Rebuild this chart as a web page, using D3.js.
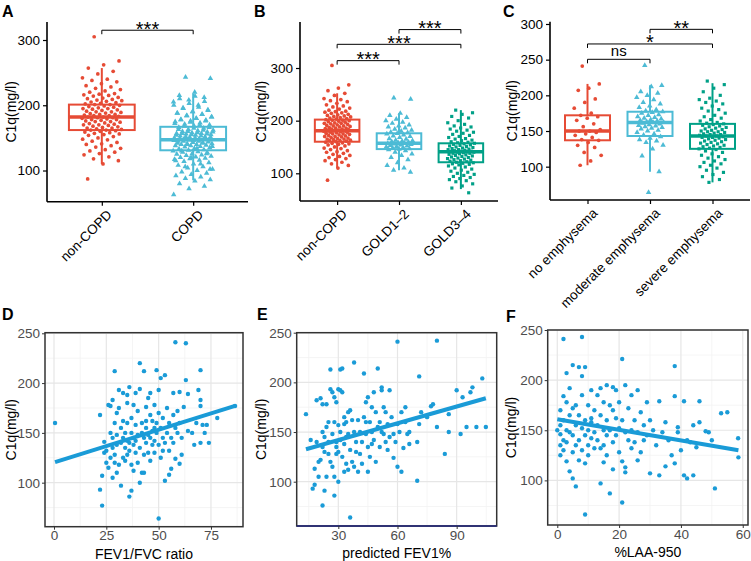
<!DOCTYPE html>
<html><head><meta charset="utf-8">
<script src="https://cdn.jsdelivr.net/npm/d3@7"></script>
<style>body{margin:0;background:#fff} text{font-family:"Liberation Sans",Arial,sans-serif}</style>
</head><body><svg id="c" width="751" height="561"></svg>
<script>
// ---------- DATA ----------
const nonCOPD = [305,268,262,257,252,248,242,240,238,236,233,230,228,226,224,222,220,218,217,216,215,214,212,211,210,209,208,207,206,205,204,203,202,201,201,200,199,198,197,196,195,195,194,193,192,191,190,190,189,188,187,186,186,185,184,184,183,182,182,181,181,180,179,178,178,177,176,175,175,174,173,172,171,170,170,169,168,167,166,165,165,164,163,162,162,161,160,159,158,157,156,155,154,152,150,148,147,145,143,141,140,138,136,134,132,130,128,126,124,121,118,115,110,87];
const gold12 = [243,241,214,210,206,203,200,197,195,192,190,188,186,184,182,180,178,177,176,175,173,171,170,168,166,165,163,162,161,160,159,158,157,157,156,155,154,153,152,151,150,149,148,147,146,145,143,140,137,134,130,126,120,115,110,106,102];
const gold34 = [220,215,212,208,205,200,196,193,190,188,186,184,182,180,178,176,174,172,170,168,166,165,163,162,160,159,158,157,156,155,154,153,152,151,150,149,148,147,146,145,145,144,143,142,142,141,141,140,140,139,138,138,137,136,135,134,133,132,131,130,129,128,127,126,125,124,123,122,121,120,119,118,117,116,114,112,110,108,106,104,102,100,98,96,94,92,90,88,86,84,80,76,72,63];
const copd = gold12.concat(gold34);
const noEmph = [241,216,210,207,195,190,182,175,172,170,168,165,160,156,152,150,150,148,146,144,141,138,137,134,130,127,120,116,108,102];
const modEmph = [242,214,212,205,203,200,197,194,190,188,185,183,180,178,177,176,175,173,172,170,169,168,167,166,165,164,163,162,162,161,160,159,158,157,156,155,154,153,151,150,148,146,144,142,140,138,136,134,130,125,115,93,64];
const sevEmph = [220,215,210,205,200,196,194,192,190,188,185,182,180,178,175,172,170,168,166,164,162,161,160,159,158,157,156,155,154,153,152,151,150,149,149,148,147,146,145,145,144,143,143,142,141,141,140,139,138,137,136,135,134,133,132,131,130,129,128,127,126,125,124,122,120,118,116,114,112,110,108,106,104,102,100,98,95,92,89,86,82,78];

// box stats: [lower whisker, Q1, median, Q3, upper whisker]
const statsA = [[110,162,182,201,257],[85,131,147,167,218]];
const statsB = [[110,160,181,202,252],[106,146,157,176,214],[70,121,141,157,220]];
const statsC = [[102,137,150,172,216],[93,143,162,177,214],[78,125,143,160,217]];

const catsA = ["non-COPD","COPD"];
const catsB = ["non-COPD","GOLD1–2","GOLD3–4"];
const catsC = ["no emphysema","moderate emphysema","severe emphysema"];

const yTicksAB = [100,200,300];
const yTicksC = [100,150,200,250,300];
const yTicksScatter = [100,150,200,250];
const xTicksD = [0,25,50,75];
const xTicksE = [30,60,90];
const xTicksF = [0,20,40,60];

// brackets: [fromIndex, toIndex, yValue, label]
const bracketsA = [[0,1,315,"***"]];
const bracketsB = [[0,1,314,"***"],[0,2,345,"***"],[1,2,373,"***"]];
const bracketsC = [[0,1,250.5,"ns"],[0,2,272,"*"],[1,2,292.5,"**"]];

// scatter data [x, C1q]
const scatterD = [[0.5,160],[22,168],[23,107],[22,93],[23,77],[24,141],[25,132],[26,178],[27,177],[27,150],[28,105],[28,145],[28,135],[29,212],[29,128],[29,120],[30,138],[30,148],[30,110],[28,183],[27,125],[26,115],[25,120],[24,130],[29,160],[30,170],
[31,193],[31,118],[32,97],[32,140],[32,155],[33,190],[33,162],[33,145],[34,150],[34,135],[34,122],[35,188],[35,180],[35,160],[35,142],[35,128],[36,86],[36,140],[36,132],[37,92],[37,118],[37,150],[37,165],[38,178],[38,145],[38,138],[38,112],[39,158],[39,130],[39,142],[40,148],[40,120],[40,172],[31,175],[33,125],[36,196],[39,190],
[41,220],[41,194],[41,100],[41,135],[42,150],[42,160],[42,110],[43,212],[43,145],[43,128],[43,110],[44,176],[44,155],[44,140],[45,185],[45,130],[45,148],[46,190],[46,168],[46,122],[47,162],[47,138],[47,152],[48,142],[48,178],[48,130],[49,160],[49,150],[49,213],[50,64],[50,193],[50,138],[50,170],[44,162],[46,145],[48,155],
[51,205],[51,125],[51,155],[52,145],[52,165],[53,208],[53,102],[53,140],[54,150],[54,175],[55,108],[55,160],[55,132],[56,114],[56,145],[57,190],[57,168],[58,241],[58,124],[58,155],[59,150],[59,172],[60,119],[60,191],[60,160],[61,128],[61,145],[62,176],[52,132],[57,140],
[63,240],[63,203],[64,189],[64,152],[66,150],[67,138],[68,160],[69,193],[70,213],[70,183],[70,177],[71,158],[70,140],[73,158],[74,140],[72,150],[78,165],[86.5,177]];
const scatterE = [[13.6,168],[16,142],[17,93],[18,97],[18,113],[19,140],[19,182],[20,105],[20,120],[21,184],[21,122],[22,76],[22,135],[22,150],[23,91],[23,145],[23,130],[24,178],[24,155],[24,105],[25,160],[25,128],[25,140],[22,178],
[26,213],[26,193],[26,120],[27,190],[27,148],[27,115],[28,86],[28,185],[28,160],[28,105],[29,180],[29,140],[29,135],[30,193],[30,157],[30,130],[30,100],[31,213],[31,192],[31,150],[32,214],[32,190],[32,125],[33,158],[33,138],[33,110],[34,160],[34,145],[34,118],[35,170],[35,148],[35,112],[29,128],[31,142],[33,165],
[36,64],[36,172],[36,132],[37,162],[37,120],[38,220],[38,150],[38,115],[39,140],[39,130],[40,162],[40,110],[41,150],[42,140],[42,118],[43,165],[43,209],[44,180],[44,148],[45,185],[45,135],[45,110],[46,160],[46,125],[47,175],[47,150],[48,190],[48,142],[49,170],[49,120],[50,155],[50,214],[41,128],[44,160],[47,138],
[51,160],[51,135],[52,195],[52,192],[52,150],[53,175],[53,148],[54,170],[54,140],[55,158],[55,132],[56,192],[56,145],[57,165],[58,148],[58,124],[59,140],[60,241],[60,158],[60,115],[61,150],[62,110],[62,170],[63,134],[64,160],[65,148],[64,175],
[66,138],[66,150],[70,101],[70,140],[71,206],[71,158],[72,170],[75,165],[77,176],[78,178],[80,242],[80,155],[84,128],[86,150],[86,168],[90,192],[92,148],[93,185],[95,155],[97,190],[98,195],[100,155],[103,204],[104.8,155]];
const scatterF = [[1,170],[1,155],[1,146],[1,135],[2,241],[2,184],[2,160],[2,140],[2,130],[3,207],[3,178],[3,150],[3,119],[3,138],[4,192],[4,165],[4,148],[4,109],[5,215],[5,172],[5,145],[5,128],[5,102],[6,94],[6,175],[6,155],[6,135],[0,150],[1,125],
[7,213],[7,165],[7,140],[8,243],[8,204],[8,185],[8,152],[8,130],[9,213],[9,66],[9,117],[9,160],[9,145],[10,175],[10,150],[10,135],[11,190],[11,158],[11,142],[12,170],[12,148],[12,132],[7,120],[10,125],[11,162],
[13,185],[13,155],[13,140],[14,97],[14,192],[14,165],[14,132],[15,178],[15,150],[15,118],[16,195],[16,160],[16,145],[16,125],[17,87],[17,175],[17,150],[18,193],[18,138],[18,111],[19,190],[19,162],[19,145],[20,178],[20,152],[20,128],[15,135],[18,170],
[21,221],[21,78],[21,119],[21,160],[22,113],[22,108],[22,148],[22,195],[23,172],[23,140],[24,185],[24,150],[24,132],[25,160],[25,138],[26,190],[26,148],[27,168],[27,128],[28,155],[28,140],[29,178],[29,145],[30,107],[30,160],[26,120],
[31,150],[32,135],[33,179],[33,105],[34,148],[35,114],[35,158],[36,140],[37,125],[38,214],[38,184],[38,117],[39,153],[39,148],[40,130],[41,179],[41,105],[42,102],[42,140],[43,138],[44,105],[44,155],[45,133],
[46,158],[46,179],[48,149],[49,148],[51,92],[53,167],[55,168],[58.6,123],[58.5,142],[50,140]];
// linear fits [intercept, slope]
const fitD = [120.4, 0.655];
const fitE = [125.05, 0.5625];
const fitF = [161, -0.529];

// ---------- DRAW ----------
const svg = d3.select("#c");
const RED="#E64B35", BLUE="#4DBBD5", GREEN="#00A087", SC="#1A9BD7";
const FONT = '"Liberation Sans",Arial,sans-serif';

function shapePath(type){
  if(type==="circle") return d3.symbol().type(d3.symbolCircle).size(11)();
  if(type==="triangle") return d3.symbol().type(d3.symbolTriangle).size(13)();
  return d3.symbol().type(d3.symbolSquare).size(10)();
}

function boxPanel(c){
  const g = svg.append("g");
  const x = d3.scalePoint().domain(c.cats).range([c.left,c.right]).padding(0.6);
  const y = d3.scaleLinear().domain(c.yDom).range([c.bottom,c.top]);
  const step = x.step(), bw = step*0.72, jw = step*0.22;
  c.cats.forEach((cat,i)=>{
    const s=c.stats[i], col=c.colors[i], cx=x(cat);
    g.append("line").attr("x1",cx).attr("x2",cx).attr("y1",y(s[0])).attr("y2",y(s[1])).attr("stroke",col).attr("stroke-width",2);
    g.append("line").attr("x1",cx).attr("x2",cx).attr("y1",y(s[3])).attr("y2",y(s[4])).attr("stroke",col).attr("stroke-width",2);
    g.append("rect").attr("x",cx-bw/2).attr("width",bw).attr("y",y(s[3])).attr("height",y(s[1])-y(s[3]))
      .attr("fill","#fff").attr("stroke",col).attr("stroke-width",2);
    g.append("line").attr("x1",cx-bw/2).attr("x2",cx+bw/2).attr("y1",y(s[2])).attr("y2",y(s[2])).attr("stroke",col).attr("stroke-width",3.5);
    const p = shapePath(c.shapes[i]);
    c.groups[i].forEach((v,j)=>{
      const off = (((j*0.6180339887+0.31)%1)-0.5)*2*jw;
      g.append("path").attr("d",p).attr("transform",`translate(${cx+off},${y(v)})`).attr("fill",col);
    });
  });
  // axes
  const ya = g.append("g").attr("transform",`translate(${c.left},0)`).call(d3.axisLeft(y).tickValues(c.yTicks).tickSize(4).tickSizeOuter(0).tickPadding(3));
  const xa = g.append("g").attr("transform",`translate(0,${c.bottom})`).call(d3.axisBottom(x).tickSize(4).tickSizeOuter(0).tickFormat(""));
  [ya,xa].forEach(a=>{a.select(".domain").attr("stroke","#000").attr("stroke-width",1.6); a.selectAll(".tick line").attr("stroke","#000").attr("stroke-width",1.2);});
  ya.selectAll(".tick text").attr("font-family",FONT).attr("font-size",13.5).attr("fill","#000");
  ya.select(".domain").attr("d",`M0,${c.top}V${c.bottom}`);
  xa.select(".domain").attr("d",`M${c.left},0H${c.right}`);
  c.cats.forEach(cat=>{
    g.append("text").attr("transform",`translate(${x(cat)+4},${c.bottom+7}) rotate(-45)`).attr("dy","0.72em")
      .attr("text-anchor","end").attr("font-size",13.5).attr("fill","#000").text(cat);
  });
  // y title
  g.append("text").attr("transform",`translate(${c.ylabX},${(c.top+c.bottom)/2}) rotate(-90)`).attr("text-anchor","middle").attr("font-size",14).text("C1q(mg/l)");
  // brackets
  c.brackets.forEach(b=>{
    const x1=x(c.cats[b[0]]), x2=x(c.cats[b[1]]), yy=y(b[2]);
    g.append("path").attr("d",`M${x1},${yy+4}V${yy}H${x2}V${yy+4}`).attr("fill","none").attr("stroke","#000").attr("stroke-width",1);
    const isNs = b[3]==="ns";
    g.append("text").attr("x",(x1+x2)/2).attr("y",isNs? yy-3 : yy+5.5).attr("text-anchor","middle")
      .attr("font-size",isNs?15:20).text(b[3]);
  });
  svg.append("text").attr("x",c.letter[0]).attr("y",c.letter[1]).attr("font-size",16).attr("font-weight","bold").text(c.letter[2]);
}

function scatterPanel(c){
  const g = svg.append("g");
  const x = d3.scaleLinear().domain(c.xDom).range([c.left,c.right]);
  const y = d3.scaleLinear().domain(c.yDom).range([c.bottom,c.top]);
  const xs = c.xTicks[1]-c.xTicks[0], ys = c.yTicks[1]-c.yTicks[0];
  const xMinor=[], yMinor=[];
  for(let v=c.xTicks[0]-xs/2; v<=c.xDom[1]; v+=xs) if(v>=c.xDom[0]) xMinor.push(v);
  for(let v=c.yTicks[0]-ys/2; v<=c.yDom[1]; v+=ys) if(v>=c.yDom[0]) yMinor.push(v);
  const majX = [], majY=[];
  for(let v=c.xTicks[0]; v<=c.xDom[1]; v+=xs) majX.push(v);
  for(let v=c.yTicks[0]; v<=c.yDom[1]; v+=ys) majY.push(v);
  xMinor.forEach(v=>g.append("line").attr("x1",x(v)).attr("x2",x(v)).attr("y1",c.top).attr("y2",c.bottom).attr("stroke","#F2F2F2").attr("stroke-width",0.8));
  yMinor.forEach(v=>g.append("line").attr("y1",y(v)).attr("y2",y(v)).attr("x1",c.left).attr("x2",c.right).attr("stroke","#F2F2F2").attr("stroke-width",0.8));
  majX.forEach(v=>g.append("line").attr("x1",x(v)).attr("x2",x(v)).attr("y1",c.top).attr("y2",c.bottom).attr("stroke","#E6E6E6").attr("stroke-width",1.2));
  majY.forEach(v=>g.append("line").attr("y1",y(v)).attr("y2",y(v)).attr("x1",c.left).attr("x2",c.right).attr("stroke","#E6E6E6").attr("stroke-width",1.2));
  c.data.forEach(d=>g.append("circle").attr("cx",x(d[0])).attr("cy",y(d[1])).attr("r",2.2).attr("fill",SC));
  const ext = d3.extent(c.data,d=>d[0]);
  g.append("line").attr("x1",x(ext[0])).attr("x2",x(ext[1])).attr("y1",y(c.fit[0]+c.fit[1]*ext[0])).attr("y2",y(c.fit[0]+c.fit[1]*ext[1]))
    .attr("stroke",SC).attr("stroke-width",4);
  g.append("rect").attr("x",c.left).attr("y",c.top).attr("width",c.right-c.left).attr("height",c.bottom-c.top).attr("fill","none").attr("stroke","#333").attr("stroke-width",1.5);
  if(c.bottomColor) g.append("line").attr("x1",c.left).attr("x2",c.right).attr("y1",c.bottom).attr("y2",c.bottom).attr("stroke",c.bottomColor).attr("stroke-width",1.5);
  const ya = g.append("g").attr("transform",`translate(${c.left},0)`).call(d3.axisLeft(y).tickValues(c.yTicks).tickSize(3).tickPadding(2));
  const xa = g.append("g").attr("transform",`translate(0,${c.bottom})`).call(d3.axisBottom(x).tickValues(c.xTicks).tickSize(3).tickPadding(1));
  [ya,xa].forEach(a=>{a.select(".domain").remove(); a.selectAll(".tick line").attr("stroke","#333"); a.selectAll(".tick text").attr("font-family",FONT).attr("font-size",13.5).attr("fill","#4D4D4D");});
  g.append("text").attr("x",(c.left+c.right)/2).attr("y",c.bottom+32).attr("text-anchor","middle").attr("font-size",14).text(c.xTitle);
  g.append("text").attr("transform",`translate(${c.ylabX},${(c.top+c.bottom)/2}) rotate(-90)`).attr("text-anchor","middle").attr("font-size",14).text("C1q(mg/l)");
  svg.append("text").attr("x",c.letter[0]).attr("y",c.letter[1]).attr("font-size",16).attr("font-weight","bold").text(c.letter[2]);
}

boxPanel({left:47,right:248,top:22,bottom:201.7,yDom:[52.2,327.6],yTicks:yTicksAB,cats:catsA,groups:[nonCOPD,copd],stats:statsA,
  colors:[RED,BLUE],shapes:["circle","triangle"],brackets:bracketsA,ylabX:16,letter:[2,17,"A"]});
boxPanel({left:300,right:498,top:22,bottom:201,yDom:[47.4,387.4],yTicks:yTicksAB,cats:catsB,groups:[nonCOPD,gold12,gold34],stats:statsB,
  colors:[RED,BLUE,GREEN],shapes:["circle","triangle","square"],brackets:bracketsB,ylabX:266,letter:[254,17,"B"]});
boxPanel({left:550,right:750,top:21.7,bottom:200,yDom:[53.3,303.2],yTicks:yTicksC,cats:catsC,groups:[noEmph,modEmph,sevEmph],stats:statsC,
  colors:[RED,BLUE,GREEN],shapes:["circle","triangle","square"],brackets:bracketsC,ylabX:517,letter:[503,17,"C"]});

scatterPanel({left:45,right:243,top:332.7,bottom:526.7,xDom:[-4.3,90.3],yDom:[55.8,250.6],xTicks:xTicksD,yTicks:yTicksScatter,
  data:scatterD,fit:fitD,xTitle:"FEV1/FVC ratio",ylabX:16,letter:[2,320,"D"]});
scatterPanel({left:296.7,right:496.7,top:332.7,bottom:526,xDom:[8.9,110.3],yDom:[55.4,250],xTicks:xTicksE,yTicks:yTicksScatter,
  data:scatterE,fit:fitE,xTitle:"predicted FEV1%",ylabX:266,letter:[257,320,"E"],bottomColor:"#1F237A"});
scatterPanel({left:547.7,right:748,top:330,bottom:525,xDom:[-3.1,61.7],yDom:[55.5,250],xTicks:xTicksF,yTicks:yTicksScatter,
  data:scatterF,fit:fitF,xTitle:"%LAA-950",ylabX:516,letter:[506,322,"F"]});
</script></body></html>
